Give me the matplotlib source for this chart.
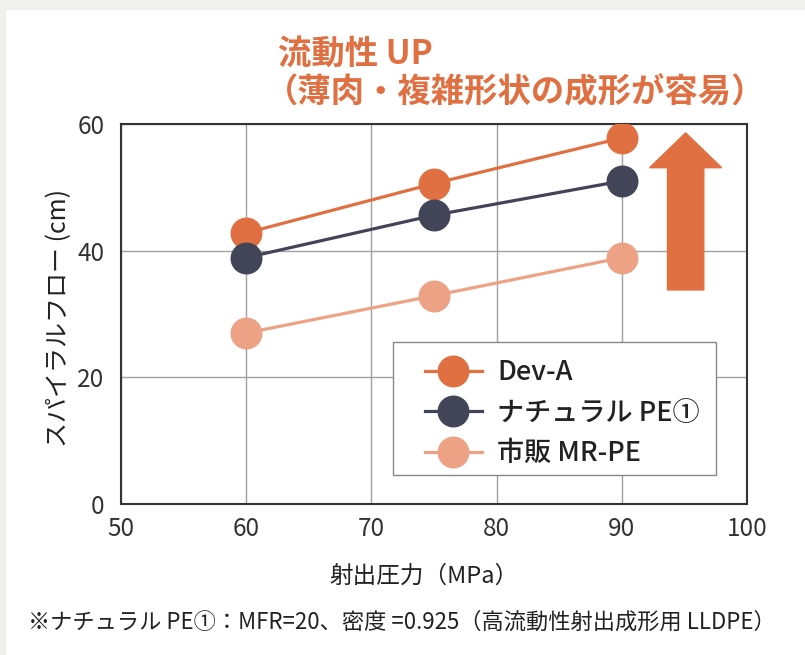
import matplotlib
matplotlib.use("Agg")
import matplotlib.pyplot as plt
from matplotlib.patches import Rectangle, FancyArrow

plt.rcParams["font.family"] = ["Noto Sans CJK JP", "DejaVu Sans"]

# データ
pressure = [60, 75, 90]
dev_a = [42.8, 50.6, 57.8]
natural_pe = [38.9, 45.6, 51.0]
mr_pe = [27.0, 32.9, 38.9]
labels = ["Dev-A", "ナチュラル PE①", "市販 MR-PE"]
x_ticks = [50, 60, 70, 80, 90, 100]
y_ticks = [0, 20, 40, 60]

COLOR_DEV = "#E07042"
COLOR_NAT = "#424557"
COLOR_MR = "#EDA285"
COLOR_BG = "#F0F0EC"
COLOR_TEXT = "#222222"

fig = plt.figure(figsize=(8.05, 6.55), dpi=100, facecolor=COLOR_BG)
# 白いパネル
fig.patches.append(Rectangle((6 / 805, 0), 1, 1 - 10 / 655, transform=fig.transFigure,
                             facecolor="white", edgecolor="none", zorder=-10))

ax = fig.add_axes([121 / 805, 1 - 504 / 655, 626 / 805, 380 / 655])
ax.set_facecolor("white")
ax.set_xlim(50, 100)
ax.set_ylim(0, 60)
ax.set_xticks(x_ticks)
ax.set_yticks(y_ticks)
ax.tick_params(length=0, labelsize=17.5, colors="#333333")
ax.tick_params(axis="x", pad=9)
ax.tick_params(axis="y", pad=12)
ax.grid(True, color="#A0A0A0", linewidth=1)
ax.set_axisbelow(True)
for sp in ax.spines.values():
    sp.set_color("#333333")
    sp.set_linewidth(1.5)

for vals, col, lab in [(dev_a, COLOR_DEV, labels[0]),
                       (natural_pe, COLOR_NAT, labels[1]),
                       (mr_pe, COLOR_MR, labels[2])]:
    ax.plot(pressure, vals, color=col, linewidth=2.3, marker="o",
            markersize=22, label=lab, zorder=3)

ax.set_xlabel("射出圧力（MPa）", fontsize=17, color=COLOR_TEXT)
ax.xaxis.set_label_coords(0.5 - 10 / 626, -61 / 380)
ax.set_ylabel("スパイラルフロー (cm)", fontsize=18, color=COLOR_TEXT)
ax.yaxis.set_label_coords(-49 / 626, (504 - 318) / 380)

# 凡例（枠は別に描く）
frame = Rectangle((393 / 805, 1 - 475 / 655), 323 / 805, 133 / 655,
                  transform=fig.transFigure, facecolor="white",
                  edgecolor="#888888", linewidth=1, zorder=4, clip_on=False)
ax.add_patch(frame)
leg = ax.legend(loc="upper left", bbox_to_anchor=(425 / 805, 1 - 359 / 655),
                bbox_transform=fig.transFigure, fontsize=19.5, frameon=False,
                handlelength=2.1, handletextpad=0.57, labelspacing=0.5,
                borderpad=0, borderaxespad=0)
leg.set_zorder(5)
for t in leg.get_texts():
    t.set_color(COLOR_TEXT)
    t.set_fontweight("medium")

# 上向き矢印
arrow = FancyArrow(95.1, 33.8, 0, 24.8, width=2.9, head_width=5.75, head_length=5.5,
                   length_includes_head=True, color=COLOR_DEV, clip_on=False, zorder=2)
ax.add_patch(arrow)

fig.text(278 / 805, 1 - 54 / 655, "流動性 UP", fontsize=24, fontweight="bold",
         color=COLOR_DEV, ha="left", va="center")
fig.text(265 / 805, 1 - 93 / 655, "（薄肉・複雑形状の成形が容易）", fontsize=24,
         fontweight="bold", color=COLOR_DEV, ha="left", va="center")

fig.text(402 / 805, 1 - 622 / 655,
         "※ナチュラル PE①：MFR=20、密度 =0.925（高流動性射出成形用 LLDPE）",
         fontsize=16, color=COLOR_TEXT, ha="center", va="center")

fig.savefig("out.png", dpi=100, facecolor=COLOR_BG)
